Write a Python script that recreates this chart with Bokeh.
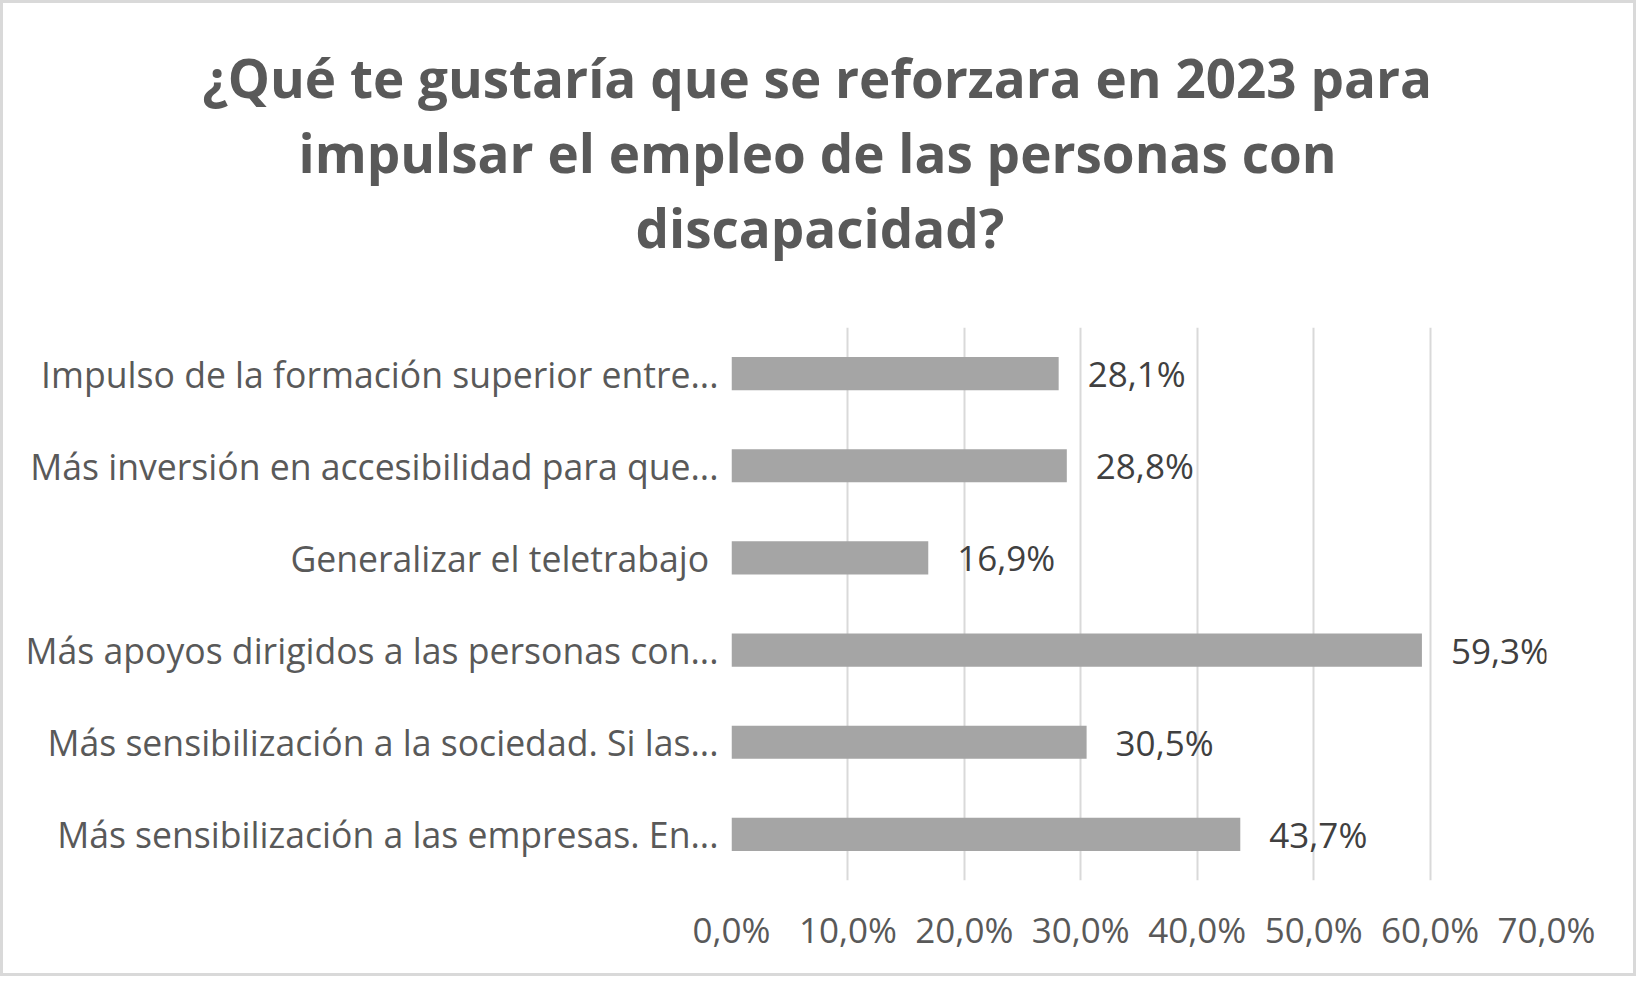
from bokeh.plotting import figure
from bokeh.models import FactorRange, Range1d, FixedTicker, Title, ColumnDataSource
from bokeh.core.properties import value
from bokeh.embed import file_html
from bokeh.resources import INLINE

# ---- data ----
title_lines = [
    "¿Qué te gustaría que se reforzara en 2023 para",
    "impulsar el empleo de las personas con",
    "discapacidad?",
]
categories = [
    "Impulso de la formación superior entre...",
    "Más inversión en accesibilidad para que...",
    "Generalizar el teletrabajo\u00a0",
    "Más apoyos dirigidos a las personas con...",
    "Más sensibilización a la sociedad. Si las...",
    "Más sensibilización a las empresas. En...",
]
values = [28.1, 28.8, 16.9, 59.3, 30.5, 43.7]
x_ticks = [0, 10, 20, 30, 40, 50, 60, 70]
x_tick_labels = ["0,0%", "10,0%", "20,0%", "30,0%", "40,0%", "50,0%", "60,0%", "70,0%"]

value_labels = [f"{v:.1f}%".replace(".", ",") for v in values]

FONT = "Open Sans"
TXT = "#595959"

src = ColumnDataSource(dict(cat=categories, val=values, lbl=value_labels))

p = figure(
    width=1636, height=976,
    y_range=FactorRange(factors=list(reversed(categories)), range_padding=0),
    x_range=Range1d(0, 70),
    output_backend="svg", toolbar_location=None,
    min_border_left=0, min_border_right=93, min_border_top=324, min_border_bottom=99,
)
p.y_range.factor_padding = 0
p.outline_line_color = None
p.background_fill_color = "white"
p.border_fill_color = "white"
p.styles = {"border": "3px solid #d9d9d9", "box-sizing": "border-box"}

# spacer between plot area and title block
p.add_layout(Title(text="\u00a0", text_font_size="1px", standoff=61), "above")

# title lines, stacked upward from the frame; left offsets centre each line on the chart
title_offsets = [-529, -433, -96]
for line, off in reversed(list(zip(title_lines, title_offsets))):
    p.add_layout(Title(text=line, align="left", offset=off, standoff=0,
                       text_font=FONT, text_font_style="bold",
                       text_font_size="53px", text_color=TXT), "above")

p.hbar(y="cat", right="val", left=0, height=0.36, source=src,
       fill_color="#a5a5a5", line_color=None)
p.text(x="val", y="cat", text="lbl", source=src, x_offset=29,
       text_align="left", text_baseline="middle",
       text_font=value(FONT), text_font_size="35px", text_color="#404040")

# grid
p.xgrid.ticker = FixedTicker(ticks=x_ticks)
p.xgrid.grid_line_color = "#d9d9d9"
p.xgrid.grid_line_width = 2
p.ygrid.grid_line_color = None

# x axis
xa = p.xaxis[0]
xa.ticker = FixedTicker(ticks=x_ticks)
xa.major_label_overrides = {t: l for t, l in zip(x_ticks, x_tick_labels)}
xa.axis_line_color = None
xa.major_tick_line_color = None
xa.minor_tick_line_color = None
xa.major_label_text_font = FONT
xa.major_label_text_font_size = "35px"
xa.major_label_text_color = TXT
xa.major_label_standoff = 19

# y axis
ya = p.yaxis[0]
ya.axis_line_color = None
ya.major_tick_line_color = None
ya.minor_tick_line_color = None
ya.major_label_text_font = FONT
ya.major_label_text_font_size = "35.6px"
ya.major_label_text_color = TXT
ya.major_label_standoff = 7
ya.axis_label = "\u00a0"
ya.axis_label_text_font_size = "10px"
ya.axis_label_standoff = 5

open("out.html", "w").write(file_html(p, INLINE))
